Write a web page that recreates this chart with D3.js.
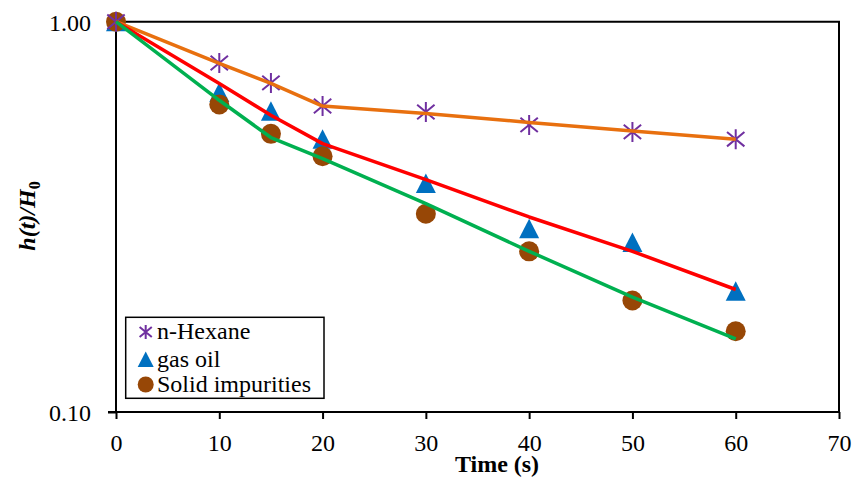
<!DOCTYPE html>
<html>
<head>
<meta charset="utf-8">
<script src="https://cdn.jsdelivr.net/npm/d3@7"></script>
<style>
  body { margin: 0; background: #fff; }
  svg text { font-family: "Liberation Serif", "Times New Roman", serif; }
</style>
</head>
<body>
<div id="chart"></div>
<script>
/* DATA */
const timeS = [0, 10, 15, 20, 30, 40, 50, 60];
const hexaneObs = [1.00, 0.784, 0.697, 0.608, 0.587, 0.544, 0.522, 0.500];
const hexaneFit = [1.00, 0.782, 0.695, 0.608, 0.582, 0.552, 0.525, 0.500];
const gasOilObs = [1.00, 0.659, 0.590, 0.500, 0.385, 0.295, 0.272, 0.204];
const gasOilFit = [1.00, 0.694, 0.576, 0.487, 0.394, 0.316, 0.258, 0.206];
const solidObs = [1.00, 0.614, 0.516, 0.452, 0.322, 0.258, 0.193, 0.161];
const solidFit = [1.00, 0.629, 0.505, 0.446, 0.342, 0.258, 0.197, 0.154];
const xTicks = [0, 10, 20, 30, 40, 50, 60, 70];
const yTicks = [0.1, 1];
const legendNames = ["n-Hexane", "gas oil", "Solid impurities"];

/* CONSTANTS */
const width = 855, height = 483;
const margin = { top: 21.7, right: 16, bottom: 71, left: 116 };
const colors = {
  star: "#7030A0", tri: "#0070C0", dot: "#974706",
  hexLine: "#E8700F", gasLine: "#FF0000", solidLine: "#00B050"
};

const svg = d3.select("#chart").append("svg")
  .attr("width", width)
  .attr("height", height);

const xScale = d3.scaleLinear()
  .domain([0, 70])
  .range([margin.left, width - margin.right]);

const yScale = d3.scaleLog()
  .domain([0.1, 1])
  .range([height - margin.bottom, margin.top]);

const x0 = xScale.range()[0], x1 = xScale.range()[1];
const yTop = yScale.range()[1], yBot = yScale.range()[0];

// frame (top + right)
svg.append("path")
  .attr("d", `M${x0},${yTop}H${x1}V${yBot}`)
  .attr("fill", "none")
  .attr("stroke", "#000")
  .attr("stroke-width", 2);

// + AXES
const xAxis = d3.axisBottom(xScale)
  .tickValues(xTicks)
  .tickSize(7)
  .tickFormat(d3.format("d"));
const yAxis = d3.axisLeft(yScale)
  .tickValues(yTicks)
  .tickSize(8)
  .tickFormat(d3.format(".2f"));

const xAxisGroup = svg.append("g")
  .attr("transform", `translate(0, ${yBot})`)
  .call(xAxis);
const yAxisGroup = svg.append("g")
  .attr("transform", `translate(${x0}, 0)`)
  .call(yAxis);

[xAxisGroup, yAxisGroup].forEach(g => {
  g.attr("font-family", null).attr("font-size", 24);
  g.select(".domain").attr("stroke", "#000").attr("stroke-width", 2);
  g.selectAll(".tick line").attr("stroke", "#000").attr("stroke-width", 2);
  g.selectAll(".tick text").attr("fill", "#000");
});
xAxisGroup.select(".domain").attr("d", `M${x0 - 8},0H${x1}`);
xAxisGroup.selectAll(".tick text").attr("y", 39).attr("dy", 0);
yAxisGroup.select(".domain").attr("d", `M0,${yTop}V${yBot}`);
yAxisGroup.selectAll(".tick text").attr("x", -25).attr("dy", "0.35em");

// axis titles
svg.append("text")
  .attr("x", 497)
  .attr("y", 472)
  .attr("text-anchor", "middle")
  .attr("font-size", 24)
  .attr("font-weight", "bold")
  .text("Time (s)");

const yTitle = svg.append("text")
  .attr("transform", `translate(35, 216) rotate(-90)`)
  .attr("text-anchor", "middle")
  .attr("font-size", 24)
  .attr("font-weight", "bold")
  .attr("font-style", "italic");
yTitle.append("tspan").text("h(t)/H");
yTitle.append("tspan").attr("font-size", 16).attr("dy", 5).attr("font-style", "normal").text("0");

// + MARKER SHAPES
function starPath(r) {
  const a = r * 0.87, b = r * 0.72;
  return `M0,${-r}V${r}M${-a},${-b}L${a},${b}M${-a},${b}L${a},${-b}`;
}
const triPath = r => `M0,${-r}L${r},${r * 0.95}L${-r},${r * 0.95}Z`;

function drawStar(g, x, y, r) {
  g.append("path").attr("transform", `translate(${x},${y})`)
    .attr("d", starPath(r)).attr("fill", "none")
    .attr("stroke", colors.star).attr("stroke-width", 2);
}
function drawTri(g, x, y, r) {
  g.append("path").attr("transform", `translate(${x},${y})`)
    .attr("d", triPath(r)).attr("fill", colors.tri);
}
function drawDot(g, x, y, r) {
  g.append("circle").attr("cx", x).attr("cy", y).attr("r", r)
    .attr("fill", colors.dot);
}

// + MARKERS
const marks = svg.append("g");
timeS.forEach((t, i) => drawTri(marks, xScale(t), yScale(gasOilObs[i]), 10));
timeS.forEach((t, i) => drawDot(marks, xScale(t), yScale(solidObs[i]), 10));
timeS.forEach((t, i) => drawStar(marks, xScale(t), yScale(hexaneObs[i]), 10));

// + LINES
const line = d3.line()
  .x((d, i) => xScale(timeS[i]))
  .y(d => yScale(d));

[[hexaneFit, colors.hexLine], [gasOilFit, colors.gasLine], [solidFit, colors.solidLine]]
  .forEach(([vals, c]) => {
    svg.append("path")
      .datum(vals)
      .attr("d", line)
      .attr("fill", "none")
      .attr("stroke", c)
      .attr("stroke-width", 3.5)
      .attr("stroke-linejoin", "round");
  });

// + LEGEND
const legend = svg.append("g");
legend.append("rect")
  .attr("x", 125.7).attr("y", 317.3)
  .attr("width", 198.3).attr("height", 81)
  .attr("fill", "#fff")
  .attr("stroke", "#000")
  .attr("stroke-width", 1.5);

const rowY = [332, 359.5, 384.5];
drawStar(legend, 145.7, rowY[0], 7);
drawTri(legend, 145.7, rowY[1], 8);
drawDot(legend, 145.7, rowY[2], 8);
legendNames.forEach((name, i) => {
  legend.append("text")
    .attr("x", 157)
    .attr("y", rowY[i] + 7)
    .attr("font-size", 24)
    .text(name);
});
</script>
</body>
</html>
